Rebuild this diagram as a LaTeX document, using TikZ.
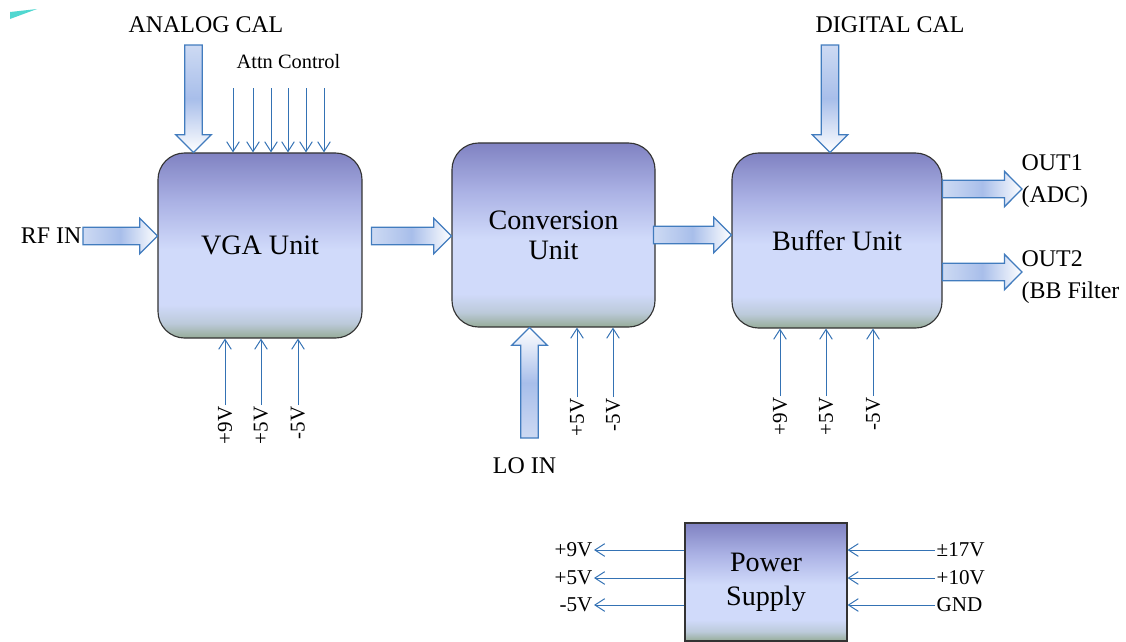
\documentclass[tikz,border=0pt]{standalone}
\usepackage{fontspec}
\setmainfont{Liberation Serif}
\usetikzlibrary{arrows.meta,calc}

\definecolor{unittop}{RGB}{128,130,194}
\definecolor{unitup}{RGB}{170,177,228}
\definecolor{unitmid}{RGB}{208,218,250}
\definecolor{unitlow}{RGB}{188,202,218}
\definecolor{unitbot}{RGB}{150,172,152}
\definecolor{fatedge}{RGB}{66,124,190}
\definecolor{fatlo}{RGB}{205,218,243}
\definecolor{fathi}{RGB}{168,190,234}
\definecolor{feedblue}{RGB}{52,114,180}
\definecolor{markcyan}{RGB}{80,215,208}

\pgfdeclareverticalshading{unitfill}{100bp}{color(0bp)=(unitbot); color(25bp)=(unitbot); color(29bp)=(unitlow); color(34bp)=(unitmid); color(49bp)=(unitmid); color(62bp)=(unitup); color(75bp)=(unittop); color(100bp)=(unittop)}

\newcommand\fatshaft{6.2pt}
\newcommand\fathead{12.6pt}
\newcommand\fatlen{12.5pt}

\newcommand\fatright[2]{%
  \draw[fatarrow,left color=fatlo,right color=white,middle color=fathi]
    let \p1=(#1), \p2=(#2) in
    (\x1,\y1+\fatshaft) -- (\x2-\fatlen,\y1+\fatshaft) -- (\x2-\fatlen,\y1+\fathead)
    -- (\x2,\y1) -- (\x2-\fatlen,\y1-\fathead) -- (\x2-\fatlen,\y1-\fatshaft)
    -- (\x1,\y1-\fatshaft) -- cycle;}
\newcommand\fatdown[2]{%
  \draw[fatarrow,top color=fatlo,bottom color=white,middle color=fathi]
    let \p1=(#1), \p2=(#2) in
    (\x1-\fatshaft,\y1) -- (\x1-\fatshaft,\y2+\fatlen) -- (\x1-\fathead,\y2+\fatlen)
    -- (\x1,\y2) -- (\x1+\fathead,\y2+\fatlen) -- (\x1+\fatshaft,\y2+\fatlen)
    -- (\x1+\fatshaft,\y1) -- cycle;}
\newcommand\fatup[2]{%
  \draw[fatarrow,bottom color=fatlo,top color=white,middle color=fathi]
    let \p1=(#1), \p2=(#2) in
    (\x1-\fatshaft,\y1) -- (\x1-\fatshaft,\y2-\fatlen) -- (\x1-\fathead,\y2-\fatlen)
    -- (\x1,\y2) -- (\x1+\fathead,\y2-\fatlen) -- (\x1+\fatshaft,\y2-\fatlen)
    -- (\x1+\fatshaft,\y1) -- cycle;}

\tikzset{
  unit/.style={draw=black!80, line width=0.8pt, rounded corners=19pt, shading=unitfill,
    font=\fontsize{20}{21.5}\selectfont, align=center},
  fatarrow/.style={draw=fatedge, line width=0.9pt},
  feed/.style={draw=feedblue, line width=0.7pt, -{Straight Barb[length=7pt,width=9pt]}},
  lbl/.style={font=\fontsize{17}{22.5}\selectfont, inner sep=1pt},
  small/.style={font=\fontsize{14.5}{17}\selectfont, inner sep=1pt},
  volt/.style={font=\fontsize{15}{17}\selectfont, inner sep=1pt},
}

\begin{document}
\begin{tikzpicture}[x=0.025cm,y=-0.025cm]
  \useasboundingbox (0,0) rectangle (1126,641);
  \fill[markcyan] (10,12) -- (37,9) -- (10,19) -- cycle;

  \node[unit, minimum width=5.1cm, minimum height=4.625cm] (vga) at (260,245.5) {VGA Unit};
  \node[unit, minimum width=5.075cm, minimum height=4.6cm] (conv) at (553.5,235) {Conversion\\Unit};
  \node[unit, minimum width=5.25cm, minimum height=4.375cm] (buf) at (837,240.5) {Buffer Unit};
  \node[unit, sharp corners, font=\fontsize{20}{24}\selectfont,
    minimum width=4.05cm, minimum height=2.95cm] (psu) at (766,582) {Power\\Supply};

  \node[lbl, anchor=east] (rf) at (83,236) {RF IN};
  \node[lbl] (acal) at (206,25) {ANALOG CAL};
  \node[lbl] (dcal) at (890,25) {DIGITAL CAL};
  \node[lbl] (lo) at (524.5,466) {LO IN};
  \node[small] (attn) at (288.5,62) {Attn Control};
  \node[lbl, anchor=west, align=left] (out1txt) at (1020,181) {OUT1\\(ADC)};
  \node[lbl, anchor=west, align=left] (out2txt) at (1020,277) {OUT2\\(BB Filter};

  \coordinate (acal-in) at (193.5,45);
  \coordinate (dcal-in) at (830,45);
  \coordinate (lo-in) at (529.5,438);
  \coordinate (out1) at (1022,189);
  \coordinate (out2) at (1022,272);

  \fatright{rf.east}{rf.east -| vga.west}
  \fatright{$(vga.east |- rf.east)+(9,0)$}{rf.east -| conv.west}
  \fatright{$(conv.east)+(-2,0)$}{conv.east -| buf.west}
  \fatright{out1 -| buf.east}{out1}
  \fatright{out2 -| buf.east}{out2}
  \fatdown{acal-in}{acal-in |- vga.north}
  \fatdown{dcal-in}{dcal-in |- buf.north}
  \fatup{lo-in}{lo-in |- conv.south}

  \foreach \x [count=\i] in {233,253,271,288,306,324} {
    \coordinate (attn\i) at (\x,88);
    \draw[feed] (attn\i) -- (attn\i |- vga.north);
  }
  \foreach \x/\v [count=\i] in {225/+9V,261/+5V,298/-5V} {
    \node[volt, rotate=90, anchor=east] (vgav\i) at (\x,405) {\v};
    \draw[feed] (vgav\i.east) -- (vgav\i.east |- vga.south);
  }
  \foreach \x/\v [count=\i] in {577/+5V,613/-5V} {
    \node[volt, rotate=90, anchor=east] (convv\i) at (\x,397) {\v};
    \draw[feed] (convv\i.east) -- (convv\i.east |- conv.south);
  }
  \foreach \x/\v [count=\i] in {780/+9V,826/+5V,873/-5V} {
    \node[volt, rotate=90, anchor=east] (bufv\i) at (\x,396) {\v};
    \draw[feed] (bufv\i.east) -- (bufv\i.east |- buf.south);
  }

  \foreach \y/\v [count=\i] in {550/+9V,578/+5V,605/-5V} {
    \node[volt, anchor=east] (psout\i) at (594,\y) {\v};
    \draw[feed] (psout\i.east -| psu.west) -- (psout\i.east);
  }
  \foreach \y/\v [count=\i] in {550/±17V,578/+10V,605/GND} {
    \node[volt, anchor=west] (psin\i) at (935,\y) {\v};
    \draw[feed] (psin\i.west) -- (psin\i.west -| psu.east);
  }
\end{tikzpicture}
\end{document}
